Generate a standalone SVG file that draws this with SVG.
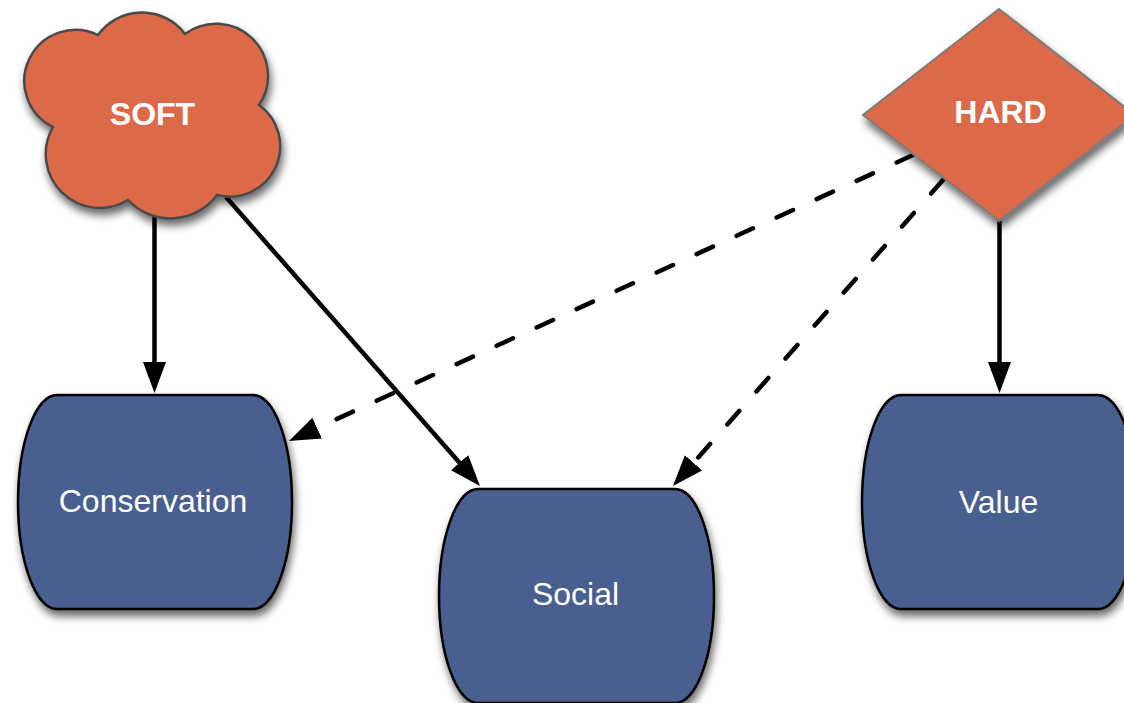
<svg xmlns="http://www.w3.org/2000/svg" width="1124" height="703" viewBox="0 0 1124 703">
<style>
.orange{fill:#dc6a4a;}
.blue{fill:#485f8f;stroke:#000;stroke-width:2.5;}
.lbl{font-family:"Liberation Sans",Arial,sans-serif;font-size:32px;fill:#fff;text-anchor:middle;}
.bold{font-weight:bold;}
.edge{fill:none;stroke:#000;stroke-width:4.5;}
.dash{stroke-dasharray:18 26;stroke-linecap:round;}
</style>
<defs>
<filter id="sh" x="-20%" y="-20%" width="150%" height="150%">
<feGaussianBlur in="SourceAlpha" stdDeviation="4"/>
<feOffset dx="2" dy="6" result="b"/>
<feComponentTransfer><feFuncA type="linear" slope="0.6"/></feComponentTransfer>
<feMerge><feMergeNode/><feMergeNode in="SourceGraphic"/></feMerge>
</filter>
<marker id="arr" markerUnits="userSpaceOnUse" markerWidth="32" markerHeight="24" refX="16" refY="11.5" orient="auto">
<path d="M0,0 L31,11.5 L0,23 Z" fill="#000"/>
</marker>
</defs>
<rect width="1124" height="703" fill="#fff"/>
<g id="connectors">
<line class="edge" x1="154.5" y1="217" x2="154.5" y2="378" marker-end="url(#arr)"/>
<line class="edge" x1="226" y1="197" x2="470.1" y2="474.7" marker-end="url(#arr)"/>
<line class="edge" x1="999.5" y1="221" x2="999.5" y2="378" marker-end="url(#arr)"/>
<line class="edge dash" x1="913" y1="155" x2="302.6" y2="434.75" marker-end="url(#arr)"/>
<line class="edge dash" x1="943" y1="180" x2="682.9" y2="474.75" marker-end="url(#arr)"/>
</g>
<g id="soft" filter="url(#sh)">
<path class="orange" stroke="#4a4a4a" stroke-width="2.5" d="M53 127 A51 51 0 0 1 98 35 A54 54 0 0 1 185 34 A52 52 0 0 1 259 105 A50.5 50.5 0 0 1 217 195 A58 58 0 0 1 128 200 A54 54 0 0 1 53 127 Z"/>
</g>
<text class="lbl bold" x="152.5" y="125">SOFT</text>
<g id="hard" filter="url(#sh)">
<polygon class="orange" stroke="#7a7a7a" stroke-width="2" points="999,9 1135,115 999,221 863,115"/>
</g>
<text class="lbl bold" x="1000.5" y="123">HARD</text>
<g id="conservation">
<path class="blue" filter="url(#sh)" d="M57 395 H253 A39 107 0 0 1 253 609 H57 A39 107 0 0 1 57 395 Z"/>
<text class="lbl" x="153" y="512">Conservation</text>
</g>
<g id="social">
<path class="blue" filter="url(#sh)" d="M478 489 H675 A39 107 0 0 1 675 703 H478 A39 107 0 0 1 478 489 Z"/>
<text class="lbl" x="575.5" y="605">Social</text>
</g>
<g id="value">
<path class="blue" filter="url(#sh)" d="M901 395 H1098 A39 107 0 0 1 1098 609 H901 A39 107 0 0 1 901 395 Z"/>
<text class="lbl" x="998.5" y="513">Value</text>
</g>
</svg>
